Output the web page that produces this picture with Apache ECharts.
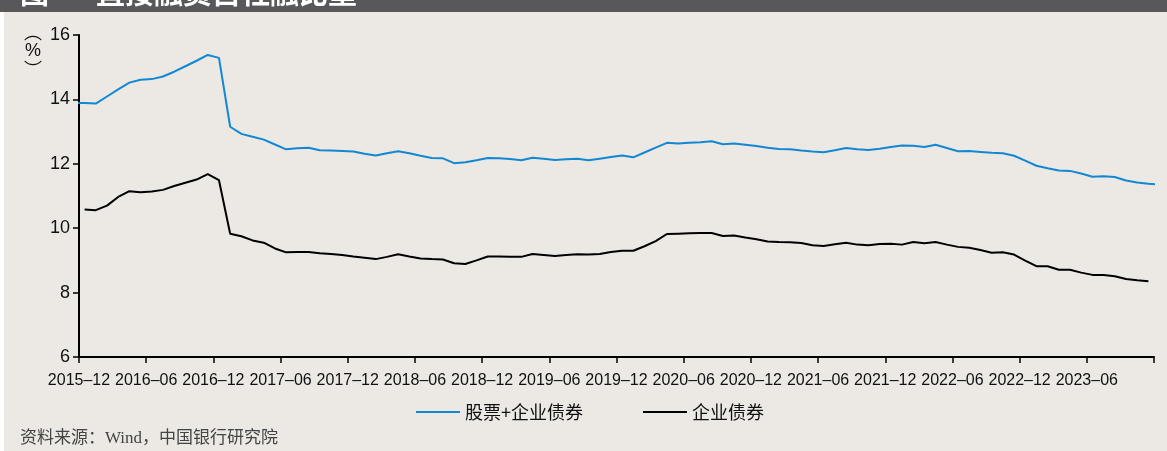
<!DOCTYPE html>
<html>
<head>
<meta charset="utf-8">
<script src="https://cdn.jsdelivr.net/npm/echarts@6/dist/echarts.min.js"></script>
<style>
  html, body { margin: 0; padding: 0; background: #ece9e4; }
  #chart { width: 1167px; height: 451px; }
</style>
</head>
<body>
<div id="chart"></div>
<script>
// tick labels on the x axis, one every 6 months from 2015-12
var tickLabels = ['2015–12', '2016–06', '2016–12', '2017–06', '2017–12', '2018–06', '2018–12',
  '2019–06', '2019–12', '2020–06', '2020–12', '2021–06', '2021–12', '2022–06', '2022–12', '2023–06'];

// 股票+企业债券, monthly, 2015-11 .. 2023-12 (%)
var stockBondStart = '2015-11';
var stockBond = [13.89, 13.89, 13.87, 14.09, 14.31, 14.52, 14.61, 14.63, 14.71, 14.86, 15.03, 15.20, 15.38,
  15.29, 13.15, 12.93, 12.84, 12.75, 12.60, 12.45, 12.48, 12.50, 12.42, 12.41, 12.40, 12.38,
  12.31, 12.26, 12.33, 12.39, 12.33, 12.25, 12.18, 12.17, 12.02, 12.05, 12.11, 12.18,
  12.17, 12.15, 12.11, 12.19, 12.16, 12.12, 12.14, 12.16, 12.11, 12.16, 12.21, 12.26,
  12.20, 12.35, 12.50, 12.65, 12.63, 12.65, 12.67, 12.70, 12.61, 12.63, 12.59, 12.55,
  12.50, 12.46, 12.45, 12.41, 12.38, 12.36, 12.42, 12.49, 12.45, 12.43, 12.47, 12.52,
  12.57, 12.56, 12.52, 12.59, 12.49, 12.39, 12.40, 12.37, 12.34, 12.33, 12.25, 12.10,
  11.94, 11.86, 11.79, 11.78, 11.70, 11.60, 11.61, 11.59, 11.48, 11.42, 11.38, 11.35];

// 企业债券, monthly, 2015-12 .. 2023-11 (%)
var corpBondStart = '2015-12';
var corpBond = [10.58, 10.56, 10.70, 10.97, 11.15, 11.12, 11.14, 11.19, 11.31, 11.41, 11.51, 11.68,
  11.49, 9.83, 9.75, 9.62, 9.55, 9.37, 9.25, 9.26, 9.26, 9.22, 9.20, 9.17,
  9.12, 9.08, 9.04, 9.11, 9.19, 9.12, 9.06, 9.04, 9.03, 8.91, 8.89, 9.00,
  9.12, 9.12, 9.11, 9.11, 9.20, 9.17, 9.14, 9.17, 9.19, 9.18, 9.20, 9.26,
  9.30, 9.30, 9.44, 9.60, 9.82, 9.83, 9.84, 9.85, 9.85, 9.76, 9.77, 9.71,
  9.66, 9.59, 9.57, 9.56, 9.54, 9.47, 9.45, 9.50, 9.55, 9.49, 9.47, 9.51,
  9.52, 9.49, 9.57, 9.53, 9.57, 9.49, 9.42, 9.39, 9.32, 9.24, 9.25, 9.18,
  8.99, 8.82, 8.82, 8.71, 8.71, 8.62, 8.55, 8.55, 8.51, 8.42, 8.38, 8.35];

// months since 2015-12
function monthIndex(ym) {
  var p = ym.split('-');
  return (+p[0] - 2015) * 12 + (+p[1] - 12);
}
// each monthly value sits in the middle of its month
function toPoints(start, values) {
  var s = monthIndex(start);
  return values.map(function (v, i) { return [s + i + 0.5, v]; });
}

var numFont = 'Liberation Sans, Arial, sans-serif';
var cjkFont = 'Noto Sans CJK SC, sans-serif';

var chart = echarts.init(document.getElementById('chart'));
chart.setOption({
  backgroundColor: '#ece9e4',
  animation: false,
  grid: { left: 79, right: 13, top: 35, bottom: 94 },
  legend: {
    left: 411,
    top: 398,
    icon: 'rect',
    itemWidth: 44,
    itemHeight: 2,
    itemGap: 60,
    textStyle: { fontSize: 18, fontFamily: cjkFont, color: '#111' },
    data: ['股票+企业债券', '企业债券']
  },
  xAxis: {
    type: 'value',
    min: 0,
    max: 96,
    interval: 6,
    axisLine: { show: true, lineStyle: { color: '#000', width: 2 } },
    axisTick: { show: true, inside: false, length: 6, lineStyle: { color: '#000', width: 1.5 } },
    splitLine: { show: false },
    axisLabel: {
      margin: 16,
      fontSize: 16,
      fontFamily: numFont,
      color: '#111',
      showMinLabel: true,
      showMaxLabel: true,
      formatter: function (v) { return tickLabels[v / 6] || ''; }
    }
  },
  yAxis: {
    type: 'value',
    min: 6,
    max: 16,
    interval: 2,
    axisLine: { show: true, lineStyle: { color: '#000', width: 2 } },
    axisTick: { show: true, inside: false, length: 6, lineStyle: { color: '#000', width: 1.5 } },
    splitLine: { show: false },
    axisLabel: { margin: 9, fontSize: 18, fontFamily: numFont, color: '#111' }
  },
  series: [
    {
      name: '股票+企业债券',
      type: 'line',
      showSymbol: false,
      clip: true,
      color: '#1287d3',
      lineStyle: { width: 2, color: '#1287d3' },
      data: toPoints(stockBondStart, stockBond)
    },
    {
      name: '企业债券',
      type: 'line',
      showSymbol: false,
      clip: true,
      color: '#000',
      lineStyle: { width: 2, color: '#000' },
      data: toPoints(corpBondStart, corpBond)
    }
  ],
  graphic: [
    { type: 'rect', left: 0, top: 0, shape: { width: 1167, height: 12 }, style: { fill: '#58585a' } },
    { type: 'rect', left: 0, top: 12, shape: { width: 4, height: 439 }, style: { fill: '#ffffff' } },
    { type: 'text', x: 20, y: 7, style: { text: '图', fill: '#fff', font: 'bold 29px ' + cjkFont, textVerticalAlign: 'bottom' } },
    { type: 'text', x: 96, y: 7, style: { text: '直接融资占社融比重', fill: '#fff', font: 'bold 29px ' + cjkFont, textVerticalAlign: 'bottom' } },
    { type: 'text', x: 33, y: 32, style: { text: '︵', fill: '#111', font: '18px ' + cjkFont, textAlign: 'center', textVerticalAlign: 'middle' } },
    { type: 'text', x: 33, y: 51, style: { text: '%', fill: '#111', font: '18px ' + numFont, textAlign: 'center', textVerticalAlign: 'middle' } },
    { type: 'text', x: 33, y: 69, style: { text: '︶', fill: '#111', font: '18px ' + cjkFont, textAlign: 'center', textVerticalAlign: 'middle' } },
    { type: 'text', x: 20, y: 439, style: { text: '资料来源：Wind，中国银行研究院', fill: '#444', font: '17px Liberation Serif, ' + cjkFont, textVerticalAlign: 'middle' } }
  ]
});
</script>
</body>
</html>
